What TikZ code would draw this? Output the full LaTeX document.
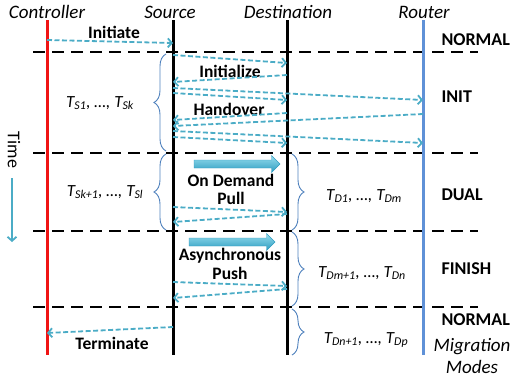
\documentclass[tikz,border=0pt]{standalone}
\usepackage{fontspec}
\setmainfont{Carlito}
\usetikzlibrary{arrows.meta,shapes.arrows,decorations.pathreplacing}
\definecolor{msgteal}{RGB}{75,172,198}
\definecolor{lightteal}{RGB}{150,222,238}
\definecolor{darkteal}{RGB}{45,155,192}
\definecolor{ctlred}{RGB}{240,20,20}
\definecolor{rtrblue}{RGB}{95,145,215}
\definecolor{braceblue}{RGB}{79,129,189}

\begin{document}
\begin{tikzpicture}[x=1pt, y=-1pt,
    msg/.style={draw=msgteal, line width=1.8pt, dash pattern=on 5pt off 2.5pt,
      -{Straight Barb[length=4pt,width=9pt]}},
    lifeline/.style={line width=3pt},
    phaseline/.style={line width=1.4pt, dash pattern=on 12pt off 7pt},
    tbrace/.style={draw=braceblue, line width=0.9pt, decorate,
      decoration={brace, amplitude=12pt}},
    title/.style={font=\fontsize{19}{21}\selectfont\itshape},
    msglabel/.style={font=\fontsize{17.5}{18.5}\selectfont\bfseries, align=center},
    mode/.style={font=\fontsize{18}{19}\selectfont\bfseries, anchor=west},
    tlabel/.style={font=\fontsize{17}{18}\selectfont\itshape},
    blockarrow/.style={single arrow, draw=darkteal, line width=0.4pt,
      top color=lightteal, bottom color=darkteal, minimum height=86pt,
      minimum width=0pt, inner sep=3.8pt, single arrow head extend=4.5pt}]
    \useasboundingbox (0,0) rectangle (511,378);

    \coordinate (ctl) at (47,20);
    \coordinate (src) at (173,20);
    \coordinate (dst) at (287,20);
    \coordinate (rtr) at (423,20);

    \node[title] (ctltitle) at (47,12) {Controller};
    \node[title] (srctitle) at (170,12) {Source};
    \node[title] (dsttitle) at (288,12) {Destination};
    \node[title] (rtrtitle) at (424,12) {Router};

    \foreach \y in {52,153,231,307}
      \draw[phaseline] (33,\y) -- (478,\y);

    \draw[lifeline, ctlred] (ctl) -- +(0,335);
    \draw[lifeline] (src) -- +(0,335);
    \draw[lifeline] (dst) -- +(0,335);
    \draw[lifeline, rtrblue] (rtr) -- +(0,335);

    \node[msglabel] (initiate) at (114,32) {Initiate};
    \draw[msg] (ctl |- 0,40) -- (src |- 0,43);

    \node[msglabel] (initialize) at (230,71) {Initialize};
    \draw[msg] (src |- 0,55) -- (dst |- 0,63);
    \draw[msg] (dst |- 0,75) -- (src |- 0,82);
    \draw[msg] (src |- 0,88) -- (rtr |- 0,100);
    \draw[msg] (src |- 0,93) -- (dst |- 0,100);
    \node[msglabel] (handover) at (229,109) {Handover};
    \draw[msg] (dst |- 0,113) -- (src |- 0,120);
    \draw[msg] (rtr |- 0,114) -- (src |- 0,126);
    \draw[msg] (src |- 0,131) -- (rtr |- 0,143);
    \draw[msg] (src |- 0,137) -- (dst |- 0,143);

    \node[blockarrow] (pullarrow) at (235,164) {};
    \node[msglabel] (pull) at (231,189.5) {On Demand\\Pull};
    \draw[msg] (src |- 0,207) -- (dst |- 0,212);
    \draw[msg] (dst |- 0,214) -- (src |- 0,222);

    \node[blockarrow] (pusharrow) at (230,242) {};
    \node[msglabel] (push) at (230,264) {Asynchronous\\Push};
    \draw[msg] (src |- 0,282) -- (dst |- 0,286);
    \draw[msg] (dst |- 0,289) -- (src |- 0,298);

    \node[msglabel] (terminate) at (112,343) {Terminate};
    \draw[msg] (src |- 0,327) -- (ctl |- 0,333);

    % time axis
    \node[rotate=-90, font=\fontsize{18}{19}\selectfont] (time) at (14,150) {Time};
    \coordinate (timetop) at (12,178);
    \coordinate (timebot) at (12,242);
    \draw[draw=msgteal, line width=1.8pt, -{Straight Barb[length=4pt,width=9pt]}] (timetop) -- (timebot);

    % task braces
    \draw[tbrace] (166,151) -- (166,54);
    \draw[tbrace] (166,230) -- (166,154);
    \draw[tbrace] (292,154) -- (292,230);
    \draw[tbrace] (292,232) -- (292,306);
    \draw[tbrace] (292,309) -- (292,355);
    \node[tlabel] (tsk) at (100,103) {T\textsubscript{S1}, …, T\textsubscript{Sk}};
    \node[tlabel] (tsl) at (105,192) {T\textsubscript{Sk+1}, …, T\textsubscript{Sl}};
    \node[tlabel] (tdm) at (364,196) {T\textsubscript{D1}, …, T\textsubscript{Dm}};
    \node[tlabel] (tdn) at (362,273) {T\textsubscript{Dm+1}, …, T\textsubscript{Dn}};
    \node[tlabel] (tdp) at (366,340) {T\textsubscript{Dn+1}, …, T\textsubscript{Dp}};

    % migration modes
    \node[mode] (normal) at (438,40) {NORMAL};
    \node[mode] (init) at (438,97) {INIT};
    \node[mode] (dual) at (438,195) {DUAL};
    \node[mode] (finish) at (438,269) {FINISH};
    \node[mode] (normalend) at (438,320) {NORMAL};
    \node[font=\fontsize{19}{22}\selectfont\itshape, align=center] (modes) at (472,356) {Migration\\Modes};
  \end{tikzpicture}
\end{document}
